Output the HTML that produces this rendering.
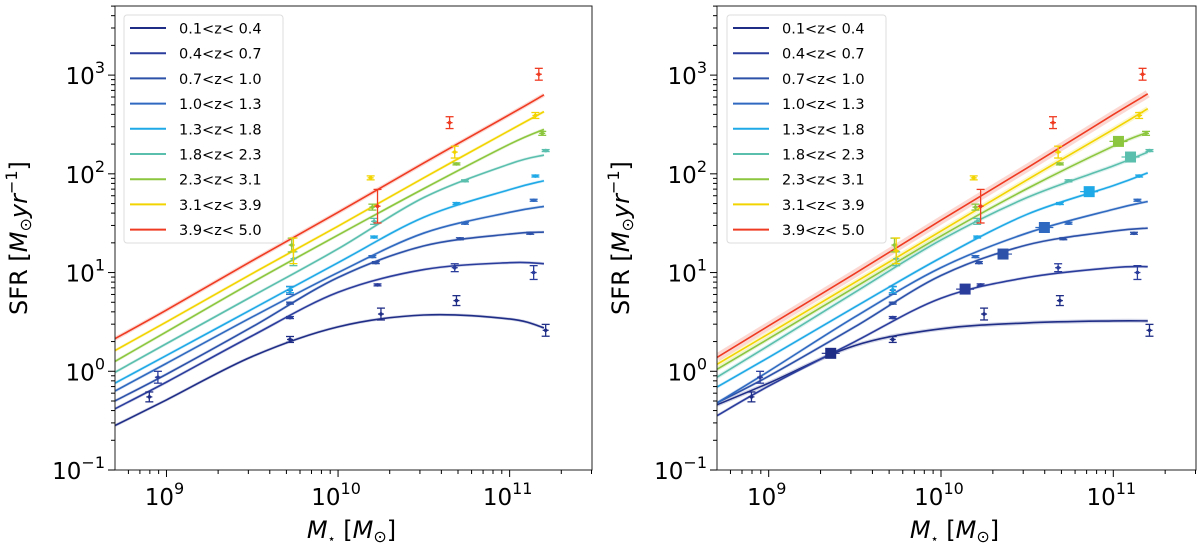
<!DOCTYPE html>
<html><head><meta charset="utf-8"><style>
html,body{margin:0;padding:0;background:#fff;}
svg{display:block;font-family:"DejaVu Sans","Liberation Sans",sans-serif;}
</style></head><body>
<svg id="chart" width="1200" height="548" viewBox="0 0 1200 548"></svg>
<script>
// ---- data ----
const labels = ["0.1<z< 0.4","0.4<z< 0.7","0.7<z< 1.0","1.0<z< 1.3","1.3<z< 1.8","1.8<z< 2.3","2.3<z< 3.1","3.1<z< 3.9","3.9<z< 5.0"];
const colors = ["#1f2d86","#2b3d9c","#2c51a9","#2f69c0","#1fa9e6","#5bbfae","#8cc63e","#f2d400","#ef3b22"];
const curveLogM = [8.7, 9.0, 9.5, 10.0, 10.5, 11.0, 11.2];
// left panel fitted curves (log SFR)
const leftCurves = [
 [-0.55,-0.29,0.15,0.45,0.57,0.53,0.44],
 [-0.38,-0.11,0.36,0.80,1.03,1.10,1.09],
 [-0.30,-0.03,0.45,0.95,1.27,1.39,1.41],
 [-0.20,0.08,0.55,1.00,1.40,1.61,1.67],
 [-0.12,0.16,0.63,1.10,1.56,1.84,1.93],
 [-0.01,0.28,0.76,1.24,1.76,2.10,2.19],
 [0.10,0.40,0.90,1.38,1.85,2.30,2.45],
 [0.21,0.50,0.99,1.47,1.96,2.44,2.63],
 [0.33,0.62,1.12,1.61,2.11,2.60,2.80]
];
// right panel fitted curves (log SFR)
const rightCurves = [
 [-0.34,-0.12,0.26,0.43,0.49,0.51,0.51],
 [-0.45,-0.15,0.30,0.74,0.95,1.05,1.06],
 [-0.32,-0.05,0.45,0.97,1.28,1.42,1.45],
 [-0.32,0.0,0.55,1.05,1.40,1.64,1.72],
 [-0.16,0.14,0.65,1.15,1.59,1.88,2.01],
 [-0.06,0.26,0.80,1.33,1.76,2.08,2.22],
 [0.02,0.33,0.85,1.37,1.85,2.28,2.42],
 [0.07,0.38,0.90,1.42,1.94,2.45,2.66],
 [0.14,0.46,0.99,1.53,2.06,2.60,2.81]
];
// data points: log M*, SFR, error (dex)
const ptLogM = [
 [8.90,9.72,10.25,10.69,11.21],
 [8.95,9.72,10.23,10.68,11.14],
 [9.72,10.22,10.71,11.12],
 [9.72,10.20,10.74,11.14],
 [9.72,10.21,10.69,11.15],
 [9.74,10.21,10.74,11.21],
 [9.73,10.20,10.69,11.19],
 [9.74,10.19,10.68,11.15],
 [10.23,10.65,11.17]
];
const ptSFR = [
 [0.55,2.1,3.8,5.2,2.6],
 [0.87,3.5,7.5,11.2,10],
 [4.9,12.6,22,25],
 [6.6,14.5,31.6,54],
 [6.7,22.9,50,95],
 [13.8,33,85,172],
 [19,46,126,257],
 [16.6,91,166,390],
 [47,330,1020]
];
const ptErr = [
 [0.05,0.03,0.06,0.05,0.06],
 [0.06,0.01,0.01,0.04,0.07],
 [0.01,0.01,0.01,0.01],
 [0.04,0.01,0.01,0.01],
 [0.03,0.01,0.01,0.01],
 [0.07,0.03,0.01,0.01],
 [0.07,0.03,0.01,0.02],
 [0.13,0.02,0.06,0.03],
 [0.17,0.06,0.06]
];
// right-panel square markers
const sqLogM = [9.36,10.14,10.36,10.60,10.86,11.10,11.03];
const sqSFR = [1.52,6.8,15.4,28.6,66,148,213];
const sqSeries = [0,1,2,3,4,5,6];
const yTickExp = [-1,0,1,2,3];
const xTickExp = [9,10,11];

// ---- layout ----
const svg = document.getElementById('chart');
const NS = "http://www.w3.org/2000/svg";
function mk(tag, attrs, parent){const e=document.createElementNS(NS,tag);for(const k in attrs)e.setAttribute(k,attrs[k]);(parent||svg).appendChild(e);return e;}

const panels = [
 {name:'left', x0:115, x1:592, curves:leftCurves, squares:false, legendX:124, bands:[3,3,3,3,3,3,3,3,4]},
 {name:'right', x0:717, x1:1196, curves:rightCurves, squares:true, legendX:727, bands:[4,3,3,3,3,4,4,5,8]}
];
const yTop=6, yBot=470, logYmin=-1, logYmax=3.70, logXmin=8.70, logXmax=11.48;

panels.forEach(P=>{
 const X = lm => P.x0 + (lm-logXmin)/(logXmax-logXmin)*(P.x1-P.x0);
 const Y = ls => yBot - (ls-logYmin)/(logYmax-logYmin)*(yBot-yTop);
 const g = mk('g',{});
 
 
 const clipId='clip-'+P.name;
 const cp=mk('clipPath',{id:clipId},g); mk('rect',{x:P.x0,y:yTop,width:P.x1-P.x0,height:yBot-yTop},cp);
 const plot = mk('g',{'clip-path':'url(#'+clipId+')'},g);
 
 

 P.curves.forEach((c,i)=>{
  const pts = curveLogM.map((m,j)=>[X(m),Y(c[j])]);
  let d='M'+pts[0][0]+','+pts[0][1];
  for(let j=0;j<pts.length-1;j++){
   const p0=pts[j-1]||pts[j], p1=pts[j], p2=pts[j+1], p3=pts[j+2]||pts[j+1];
   d+=' C'+(p1[0]+(p2[0]-p0[0])/6)+','+(p1[1]+(p2[1]-p0[1])/6)+' '+(p2[0]-(p3[0]-p1[0])/6)+','+(p2[1]-(p3[1]-p1[1])/6)+' '+p2[0]+','+p2[1];
  }
  const band = mk('path',{d:d,fill:'none',stroke:colors[i],'stroke-width':P.bands[i],'stroke-opacity':0.2},plot);
  
  
  const ln = mk('path',{d:d,fill:'none',stroke:colors[i],'stroke-width':1.6},plot);
  
  
 });
 ptLogM.forEach((arr,i)=>{
  arr.forEach((m,j)=>{
   const cx=X(m), ls=Math.log10(ptSFR[i][j]), e=ptErr[i][j];
   const y1=Y(ls+e), y2=Y(ls-e), cy=Y(ls);
   const pg=mk('g',{stroke:colors[i],'stroke-width':1.3},plot);
   
   
   mk('line',{x1:cx,y1:y1,x2:cx,y2:y2},pg);
   mk('line',{x1:cx-4,y1:y1,x2:cx+4,y2:y1},pg);
   mk('line',{x1:cx-4,y1:y2,x2:cx+4,y2:y2},pg);
   mk('line',{x1:cx-3,y1:cy,x2:cx+3,y2:cy},pg);
   mk('circle',{cx:cx,cy:cy,r:1.8,fill:colors[i],stroke:'none'},pg);
  });
 });
 if(P.squares){
  sqLogM.forEach((m,k)=>{
   const cx=X(m), cy=Y(Math.log10(sqSFR[k])), c=colors[sqSeries[k]];
   mk('line',{x1:cx-9,y1:cy,x2:cx+9,y2:cy,stroke:c,'stroke-width':1.2},plot);
   const s=mk('rect',{x:cx-5.5,y:cy-5.5,width:11,height:11,fill:c},plot);
   
   
  });
 }
 const fr=mk('rect',{x:P.x0,y:yTop,width:P.x1-P.x0,height:yBot-yTop,fill:'none',stroke:'#222','stroke-width':1},g);
 
 
 const ya=mk('g',{stroke:'#000','stroke-width':1},g);
 
 
 for(let d=-1; d<=3; d++){
  for(let k=1;k<=9;k++){
   const v=d+Math.log10(k); if(v>logYmax) continue;
   const y=Y(v); mk('line',{x1:P.x0-(k===1?7:4),y1:y,x2:P.x0,y2:y},ya);
  }
 }
 yTickExp.forEach(e=>{
  const t=mk('text',{x:P.x0-10,y:Y(e)+9,'text-anchor':'end','font-size':23,fill:'#000'},g);
  
  
  t.innerHTML='10<tspan dy="-11" font-size="16">'+(e<0?'\u2212'+(-e):e)+'</tspan>';
 });
 const xa=mk('g',{stroke:'#000','stroke-width':1},g);
 
 
 for(let d=8; d<=11; d++){
  for(let k=1;k<=9;k++){
   const v=d+Math.log10(k); if(v<logXmin-1e-6||v>logXmax) continue;
   const x=X(v); mk('line',{x1:x,y1:yBot,x2:x,y2:yBot+(k===1?7:4)},xa);
  }
 }
 xTickExp.forEach(e=>{
  const t=mk('text',{x:X(e)-2,y:yBot+35,'text-anchor':'middle','font-size':23,fill:'#000'},g);
  
  
  t.innerHTML='10<tspan dy="-11" font-size="16">'+e+'</tspan>';
 });
 const xt=mk('text',{x:(P.x0+P.x1)/2-2,y:538,'text-anchor':'middle','font-size':24,fill:'#000'},g);
 
 
 xt.innerHTML='<tspan font-style="italic">M</tspan><tspan font-size="13" dy="5">\u22c6</tspan><tspan dy="-5"> [</tspan><tspan font-style="italic">M</tspan><tspan font-size="16" dy="4">\u2299</tspan><tspan dy="-4">]</tspan>';
 const yt=mk('text',{transform:'translate('+(P.x0-88)+','+(yTop+yBot)/2+') rotate(-90)','text-anchor':'middle','font-size':24,fill:'#000'},g);
 
 
 yt.innerHTML='SFR [<tspan font-style="italic">M</tspan><tspan font-size="16" dy="4">\u2299</tspan><tspan dy="-4" font-style="italic">yr</tspan><tspan dy="-10" font-size="16">\u22121</tspan><tspan dy="10">]</tspan>';
 const lg=mk('g',{},g);
 
 
 mk('rect',{x:P.legendX,y:15,width:159,height:228,rx:3,fill:'#fff','fill-opacity':0.85,stroke:'#ddd','stroke-width':1},lg);
 labels.forEach((l,i)=>{
  const y=28+i*25.2;
  const en=mk('g',{},lg);
  
  
  mk('line',{x1:P.legendX+6,y1:y,x2:P.legendX+42,y2:y,stroke:colors[i],'stroke-width':2},en);
  const t=mk('text',{x:P.legendX+55,y:y+5.5,'font-size':14.5,fill:'#000'},en);
  t.textContent=l;
 });
});
</script>
</body></html>
